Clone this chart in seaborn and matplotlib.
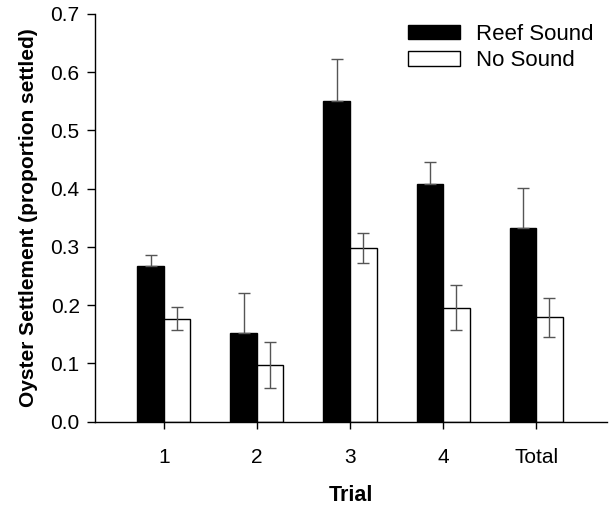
import pandas as pd
import seaborn as sns
import matplotlib.pyplot as plt
import numpy as np

# Data
trials = ['1', '2', '3', '4', 'Total']
groups = ['Reef Sound', 'No Sound']
reef_mean = [0.267, 0.152, 0.551, 0.408, 0.333]
reef_se = [0.019, 0.069, 0.072, 0.037, 0.068]
none_mean = [0.177, 0.097, 0.298, 0.196, 0.179]
none_se = [0.020, 0.040, 0.026, 0.038, 0.034]

df = pd.DataFrame({
    'Trial': trials * 2,
    'group': [groups[0]] * len(trials) + [groups[1]] * len(trials),
    'value': reef_mean + none_mean,
})

sns.set_style('ticks')
plt.rcParams['font.family'] = ['Liberation Sans', 'DejaVu Sans']
plt.rcParams['text.color'] = 'black'
plt.rcParams['axes.labelcolor'] = 'black'
plt.rcParams['xtick.color'] = 'black'
plt.rcParams['ytick.color'] = 'black'

fig = plt.figure(figsize=(6.13, 5.12), dpi=100)
ax = fig.add_axes([0.155, 0.1764, 0.835, 0.7963])

sns.barplot(data=df, x='Trial', y='value', hue='group', order=trials,
            hue_order=groups, palette=['black', 'white'], edgecolor='black',
            linewidth=1, width=0.57, gap=0, errorbar=None, ax=ax)

# Error bars at bar centres (reef: upper only, lower half sits inside the black bar)
bars = ax.patches[:2 * len(trials)]
reef_x = [b.get_x() + b.get_width() / 2 for b in bars[:len(trials)]]
none_x = [b.get_x() + b.get_width() / 2 for b in bars[len(trials):]]
ax.errorbar(reef_x, reef_mean, yerr=[np.zeros(len(trials)), reef_se], fmt='none',
            ecolor='#555555', elinewidth=1, capsize=4, capthick=1, zorder=3)
ax.errorbar(none_x, none_mean, yerr=none_se, fmt='none',
            ecolor='#555555', elinewidth=1, capsize=4, capthick=1, zorder=3)

ax.set_xlim(-0.74, 4.76)
ax.set_ylim(0, 0.7)
ax.set_yticks(np.arange(0, 0.71, 0.1))
ax.set_yticklabels([f'{v:.1f}' for v in np.arange(0, 0.71, 0.1)])
ax.tick_params(axis='both', labelsize=15, direction='out', width=1)
ax.tick_params(axis='y', length=6, pad=5)
ax.tick_params(axis='x', length=5, pad=14)
for s in ['top', 'right']:
    ax.spines[s].set_visible(False)
for s in ['left', 'bottom']:
    ax.spines[s].set_linewidth(1)
    ax.spines[s].set_color('black')

ax.set_xlabel('Trial', fontsize=15.5, fontweight='bold', labelpad=13)
ax.set_ylabel('Oyster Settlement (proportion settled)', fontsize=15,
              fontweight='bold', labelpad=9)

leg = ax.legend(loc='upper right', bbox_to_anchor=(1.012, 1.025), frameon=False,
                fontsize=16, handlelength=2.35, handleheight=0.6,
                handletextpad=0.7, labelspacing=0.25)

fig.savefig('out.png', dpi=100)
